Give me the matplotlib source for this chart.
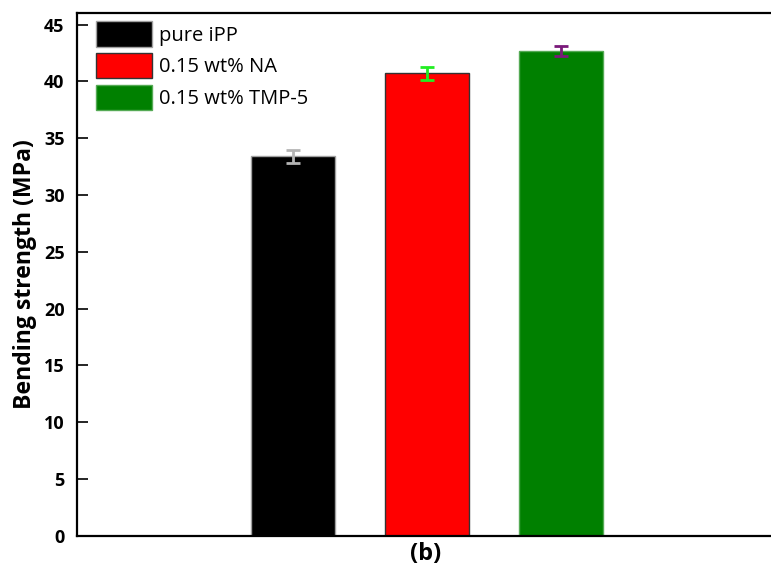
import matplotlib.pyplot as plt
import numpy as np

# data
labels = ['pure iPP', '0.15 wt% NA', '0.15 wt% TMP-5']
strength = [33.4, 40.7, 42.7]
errors = [0.55, 0.55, 0.45]
bar_colors = ['#000000', '#ff0000', '#008000']
edge_colors = ['#a0a0a0', '#333333', '#55aa55']
err_colors = ['#b4b4b4', '#22ee22', '#7a1a7a']

plt.rcParams['font.family'] = ['Open Sans', 'DejaVu Sans']

fig = plt.figure(figsize=(7.71, 5.72), dpi=100)
ax = fig.add_axes([0.0999, 0.063, 0.905, 0.914])

x = np.arange(1, len(strength) + 1)
for i in range(len(strength)):
    ax.bar(x[i], strength[i], width=0.627, color=bar_colors[i],
           edgecolor=edge_colors[i], linewidth=1.0, label=labels[i], zorder=2)
    ax.errorbar(x[i], strength[i], yerr=errors[i], fmt='none',
                ecolor=err_colors[i], elinewidth=2, capsize=5, capthick=2, zorder=3)

ax.set_xlim(-0.612, 4.6)
ax.set_ylim(0, 46)
ax.set_yticks(np.arange(0, 46, 5))
ax.set_xticks([])
ax.tick_params(axis='y', direction='in', length=8, width=1.2, labelsize=13, pad=9)
for t in ax.get_yticklabels():
    t.set_fontweight('bold')
for s in ['left', 'bottom', 'top']:
    ax.spines[s].set_linewidth(1.6)
ax.spines['right'].set_visible(False)

ax.set_ylabel('Bending strength (MPa)', fontsize=16.6, fontweight='bold', labelpad=5)
ax.set_xlabel('(b)', fontsize=17, fontweight='bold', labelpad=4)

leg = ax.legend(loc='upper left', frameon=False, fontsize=14.5, handlelength=2.75,
                handleheight=1.58, handletextpad=0.35, labelspacing=0.3,
                borderpad=0.4, borderaxespad=0, bbox_to_anchor=(0.016, 1.0))

plt.savefig('out.png', dpi=100)
